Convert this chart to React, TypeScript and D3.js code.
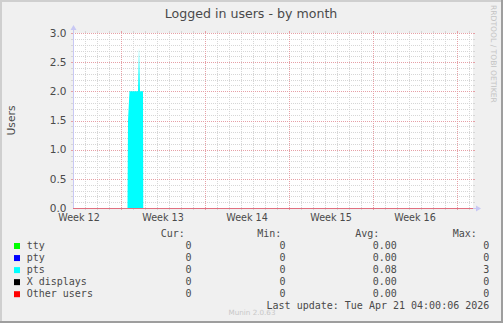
import React from "react";
import * as d3 from "d3";

const W = 503;
const H = 323;

const title = "Logged in users - by month";
const yLabel = "Users";

// pts series breakpoints (UTC)
const ptsTimes = [
  "2026-03-23T13:00:00Z",
  "2026-03-23T14:00:00Z",
  "2026-03-23T17:00:00Z",
  "2026-03-24T10:00:00Z",
  "2026-03-24T12:00:00Z",
  "2026-03-24T14:00:00Z",
  "2026-03-24T20:00:00Z",
  "2026-03-24T20:30:00Z",
];
const ptsValues = [0, 1.5, 2, 2, 2.75, 2, 2, 0];

const timeStart = "2026-03-19T00:00:00Z";
const timeEnd = "2026-04-21T08:00:00Z";

const weekStarts = [
  "2026-03-16T00:00:00Z",
  "2026-03-23T00:00:00Z",
  "2026-03-30T00:00:00Z",
  "2026-04-06T00:00:00Z",
  "2026-04-13T00:00:00Z",
  "2026-04-20T00:00:00Z",
];
const weekLabels = ["Week 12", "Week 13", "Week 14", "Week 15", "Week 16"];

const yTicks = [0, 0.5, 1, 1.5, 2, 2.5, 3];

const seriesNames = ["tty", "pty", "pts", "X displays", "Other users"];
const seriesColors = ["#00ff00", "#0000ff", "#00ffff", "#000000", "#ff0000"];
const curValues = ["0", "0", "0", "0", "0"];
const minValues = ["0", "0", "0", "0", "0"];
const avgValues = ["0.00", "0.00", "0.08", "0.00", "0.00"];
const maxValues = ["0", "0", "3", "0", "0"];
const lastUpdate = "Last update: Tue Apr 21 04:00:06 2026";
const munin = "Munin 2.0.63";
const watermark = "RRDTOOL / TOBI OETIKER";

const PL = 73;
const PR = 473;
const PT = 33;
const PB = 208;

const SANS = "'DejaVu Sans', sans-serif";
const MONO = "'DejaVu Sans Mono', monospace";
const TXT = "#4a4a4a";
const MINOR = "#d6d6d6";
const MAJOR = "#e6a0a6";

export default function App() {
  const x = d3
    .scaleUtc()
    .domain([new Date(timeStart), new Date(timeEnd)])
    .range([PL, PR]);
  const y = d3.scaleLinear().domain([0, 3]).range([PB, PT]);

  const days = d3.utcDay.range(new Date(timeStart), new Date(timeEnd));
  const mondays = d3.utcMonday.range(new Date(timeStart), new Date(timeEnd));
  const mondaySet = new Set(mondays.map((d) => +d));
  const minorDays = days.filter((d) => !mondaySet.has(+d) && x(d) > PL + 0.5);

  const minorY = d3.range(0, 31).map((i) => i / 10).filter((v) => Math.round(v * 10) % 5 !== 0);

  const ptsData = ptsTimes.map((t, i) => ({ t: new Date(t), v: ptsValues[i] }));
  const area = d3
    .area<{ t: Date; v: number }>()
    .x((d) => x(d.t))
    .y0(y(0))
    .y1((d) => y(d.v));

  const rowY = (i: number) => 248.7 + i * 12.05;

  return (
    <svg
      width={W}
      height={H}
      style={{ position: "absolute", left: 0, top: 0, display: "block" }}
    >
      <rect x={0} y={0} width={W} height={H} fill="#f0f0f0" />
      {/* frame */}
      <rect x={0} y={0} width={W} height={2} fill="#cfcfcf" />
      <rect x={0} y={0} width={2} height={H} fill="#cfcfcf" />
      <rect x={W - 2} y={0} width={2} height={H} fill="#9e9e9e" />
      <rect x={0} y={H - 2} width={W} height={2} fill="#9e9e9e" />

      <rect x={PL} y={PT} width={PR - PL} height={PB - PT} fill="#ffffff" />

      {/* minor grid */}
      <g stroke={MINOR} strokeWidth={1} shapeRendering="crispEdges">
        {minorDays.map((d, i) => {
          const px = Math.round(x(d)) + 0.5;
          return (
            <g key={"mx" + i}>
              <line x1={px} x2={px} y1={PT} y2={PB} strokeDasharray="1,1" />
              <line x1={px} x2={px} y1={PT - 2} y2={PT} />
              <line x1={px} x2={px} y1={PB} y2={PB + 2} />
            </g>
          );
        })}
        {minorY.map((v, i) => {
          const py = Math.round(y(v)) + 0.5;
          return (
            <g key={"my" + i}>
              <line x1={PL} x2={PR} y1={py} y2={py} strokeDasharray="1,1" />
              <line x1={PL - 2} x2={PL} y1={py} y2={py} />
              <line x1={PR} x2={PR + 2} y1={py} y2={py} />
            </g>
          );
        })}
      </g>
      {/* major grid */}
      <g stroke={MAJOR} strokeWidth={1} shapeRendering="crispEdges">
        {mondays.map((d, i) => {
          const px = Math.round(x(d)) + 0.5;
          return (
            <g key={"Mx" + i}>
              <line x1={px} x2={px} y1={PT} y2={PB} strokeDasharray="1,1" />
              <line x1={px} x2={px} y1={PT - 2} y2={PT} />
              <line x1={px} x2={px} y1={PB} y2={PB + 2} />
            </g>
          );
        })}
        {yTicks.filter((v) => v > 0).map((v, i) => {
          const py = Math.round(y(v)) + 0.5;
          return (
            <g key={"My" + i}>
              <line x1={PL} x2={PR} y1={py} y2={py} strokeDasharray="1,1" />
              <line x1={PL - 2} x2={PL} y1={py} y2={py} />
              <line x1={PR} x2={PR + 2} y1={py} y2={py} />
            </g>
          );
        })}
      </g>

      {/* pts area */}
      <path d={area(ptsData) || ""} fill="#00ffff" />

      {/* axes */}
      <g stroke="#c8c8f4" strokeWidth={1} shapeRendering="crispEdges">
        <line x1={PL + 0.5} x2={PL + 0.5} y1={PB} y2={PT - 4} />
        <line x1={PL} x2={PR + 4} y1={PB + 0.5} y2={PB + 0.5} />
      </g>
      <path d={`M${PL - 2.5},${PT - 3} L${PL + 0.5},${PT - 8} L${PL + 3.5},${PT - 3} Z`} fill="#c8c8f4" />
      <path d={`M${PR + 3},${PB - 2.5} L${PR + 8},${PB + 0.5} L${PR + 3},${PB + 3.5} Z`} fill="#c8c8f4" />
      {/* zero line */}
      <line x1={PL} x2={PR} y1={PB + 0.5} y2={PB + 0.5} stroke="#e07080" strokeWidth={1.2} />

      {/* y tick labels */}
      <g fontFamily={SANS} fontSize={10.5} fill={TXT} textAnchor="end">
        {yTicks.map((v, i) => (
          <text key={"yl" + i} x={66.5} y={y(v) + 3.8}>
            {v.toFixed(1)}
          </text>
        ))}
      </g>
      {/* x labels */}
      <g fontFamily={SANS} fontSize={9.6} fill={TXT} textAnchor="middle">
        {weekLabels.map((lbl, i) => {
          const cx = (x(new Date(weekStarts[i])) + x(new Date(weekStarts[i + 1]))) / 2;
          return (
            <text key={"wl" + i} x={cx} y={221}>
              {lbl}
            </text>
          );
        })}
      </g>

      <text x={251} y={17.6} textAnchor="middle" fontFamily={SANS} fontSize={12.6} fill={TXT}>
        {title}
      </text>
      <text
        transform={`translate(14.5,${(PT + PB) / 2}) rotate(-90)`}
        textAnchor="middle"
        fontFamily={SANS}
        fontSize={10.7}
        fill={TXT}
      >
        {yLabel}
      </text>
      <text
        transform={`translate(490.5,5) rotate(90)`}
        fontFamily={SANS}
        fontSize={7.6}
        fill="#c4c4c4"
      >
        {watermark}
      </text>

      {/* legend */}
      <g fontFamily={MONO} fontSize={10} fill={TXT}>
        <text x={160.7} y={236.7}>Cur:</text>
        <text x={257.3} y={236.7}>Min:</text>
        <text x={355.3} y={236.7}>Avg:</text>
        <text x={452.7} y={236.7}>Max:</text>
        {seriesNames.map((n, i) => (
          <g key={"lg" + i}>
            <rect x={14} y={rowY(i) - 5.7} width={6} height={6} fill={seriesColors[i]} />
            <text x={26.7} y={rowY(i)}>{n}</text>
            <text x={191.5} y={rowY(i)} textAnchor="end">{curValues[i]}</text>
            <text x={285.5} y={rowY(i)} textAnchor="end">{minValues[i]}</text>
            <text x={396.8} y={rowY(i)} textAnchor="end">{avgValues[i]}</text>
            <text x={489.3} y={rowY(i)} textAnchor="end">{maxValues[i]}</text>
          </g>
        ))}
        <text x={489.3} y={309} textAnchor="end">{lastUpdate}</text>
      </g>
      <text x={252} y={315} textAnchor="middle" fontFamily={SANS} fontSize={7.2} fill="#c8c8c8">
        {munin}
      </text>
    </svg>
  );
}
